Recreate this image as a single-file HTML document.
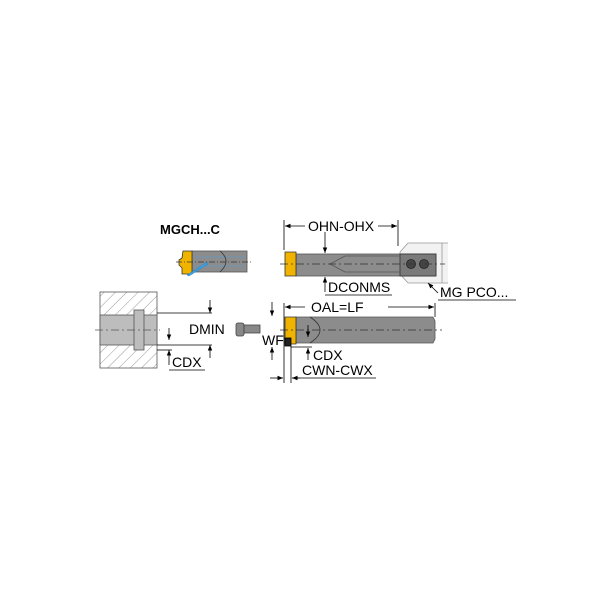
<!DOCTYPE html>
<html><head><style>body{margin:0;background:#fff}svg{display:block}</style></head><body>
<svg width="600" height="600" viewBox="0 0 600 600" xmlns="http://www.w3.org/2000/svg" font-family="Liberation Sans, sans-serif">
<defs>
<pattern id="h" width="8" height="8" patternUnits="userSpaceOnUse" patternTransform="rotate(45)">
<rect width="8" height="8" fill="#fff"/><line x1="0" y1="0" x2="0" y2="8" stroke="#999" stroke-width="1"/></pattern>
<marker id="a" viewBox="0 0 10 10" refX="10" refY="5" markerWidth="7" markerHeight="7" orient="auto-start-reverse"><path d="M0,1 L10,5 L0,9z" fill="#000"/></marker>
</defs>
<g stroke="#000" stroke-width="0.8" fill="none">
<!-- MGCH small tool -->
<text x="160" y="234" font-size="13" font-weight="bold" fill="#000" stroke="none">MGCH...C</text>
<rect x="192" y="251" width="55" height="21" fill="#8c8c8c" stroke="#555"/>
<path d="M220,251 q12,10 0,21" stroke="#333"/>
<path d="M183,251 h9 v23 h-10 v-6 l-3,-3 v-5 l3,-2 z" fill="#f0b400" stroke="#333"/>
<path d="M187,275 l20,-13 l1,2 l-19,12 z" fill="#3ba0e0" stroke="#2a7fc0" stroke-width="0.5"/>
<line x1="176" y1="262" x2="252" y2="262" stroke="#333" stroke-dasharray="6 2 1 2"/>
<line x1="196" y1="257" x2="245" y2="257" stroke="#4aa0e0" stroke-dasharray="3 2"/>
<line x1="196" y1="266" x2="245" y2="266" stroke="#4aa0e0" stroke-dasharray="3 2"/>
<!-- top right tool -->
<path d="M408,243 H448 V283 H408 L400,274 V252 z" stroke="none" fill="#f2f2f2"/>
<path d="M408,243 H448 M408,283 H448 M408,243 L400,252 V274 L408,283 M442,243 V283" stroke="#999"/>
<rect x="296" y="254" width="140" height="22" fill="#8c8c8c" stroke="#555"/>
<rect x="400" y="254" width="36" height="22" fill="#7a7a7a" stroke="#333"/>
<path d="M345,256 H400 M345,272 H400 M345,256 L330,264 L345,272" stroke="#555"/>
<circle cx="411" cy="264" r="4.5" fill="#444" stroke="#222"/><circle cx="424" cy="264" r="4.5" fill="#444" stroke="#222"/>
<path d="M285,252 h11 v24 h-11 z" fill="#f0b400" stroke="#333"/>
<line x1="280" y1="264" x2="445" y2="264" stroke="#333" stroke-dasharray="8 3 2 3"/>
<line x1="284" y1="220" x2="284" y2="250"/><line x1="398" y1="220" x2="398" y2="246"/>
<line x1="285" y1="226" x2="305" y2="226" marker-start="url(#a)"/><line x1="378" y1="226" x2="397" y2="226" marker-end="url(#a)"/>
<text x="308" y="231" font-size="14" fill="#000" stroke="none">OHN-OHX</text>
<line x1="325" y1="232" x2="325" y2="253" marker-end="url(#a)"/>
<line x1="325" y1="292" x2="325" y2="277" marker-end="url(#a)"/>
<text x="328" y="292" font-size="14" fill="#000" stroke="none">DCONMS</text>
<line x1="325" y1="295" x2="392" y2="295"/>
<line x1="438" y1="293" x2="428" y2="283" marker-end="url(#a)"/>
<text x="440" y="297" font-size="14" fill="#000" stroke="none">MG PCO...</text>
<line x1="438" y1="300" x2="516" y2="300"/>
<!-- hatched block -->
<rect x="100" y="292" width="57" height="76" fill="url(#h)" stroke="#555"/>
<rect x="100" y="315" width="57" height="30" fill="#bdbdbd" stroke="#555"/>
<rect x="134" y="310" width="10" height="40" fill="#bdbdbd" stroke="#555"/>
<line x1="95" y1="330" x2="160" y2="330" stroke="#555" stroke-dasharray="8 3 2 3"/>
<line x1="157" y1="313" x2="212" y2="313"/><line x1="157" y1="345" x2="212" y2="345"/>
<line x1="210" y1="300" x2="210" y2="313" marker-end="url(#a)"/><line x1="210" y1="358" x2="210" y2="345" marker-end="url(#a)"/>
<text x="189" y="334" font-size="14" fill="#000" stroke="none">DMIN</text>
<line x1="157" y1="350" x2="172" y2="350"/>
<line x1="169" y1="328" x2="169" y2="340" marker-end="url(#a)"/><line x1="169" y1="365" x2="169" y2="350" marker-end="url(#a)"/>
<text x="172" y="367" font-size="14" fill="#000" stroke="none">CDX</text>
<line x1="169" y1="370" x2="205" y2="370"/>
<!-- small part -->
<rect x="236" y="323" width="8" height="13" rx="2" fill="#888" stroke="#444"/>
<rect x="244" y="325" width="16" height="8" fill="#888" stroke="#444"/>
<!-- bottom right tool -->
<path d="M296,317 H433 l2,4 V339 l-2,4 H296 z" fill="#8c8c8c" stroke="#555"/>
<path d="M310,317 q20,13 0,26" stroke="#333"/>
<path d="M285,317 h11 v27 h-11 z" fill="#f0b400" stroke="#333"/>
<rect x="285" y="338" width="6" height="8" fill="#222"/>
<line x1="280" y1="330" x2="442" y2="330" stroke="#333" stroke-dasharray="8 3 2 3"/>
<line x1="284" y1="303" x2="284" y2="383"/><line x1="291" y1="346" x2="291" y2="383"/>
<line x1="285" y1="307" x2="305" y2="307" marker-start="url(#a)"/><line x1="388" y1="307" x2="434" y2="307" marker-end="url(#a)"/>
<text x="311" y="312" font-size="14" fill="#000" stroke="none">OAL=LF</text>
<line x1="435" y1="303" x2="435" y2="317"/>
<line x1="272" y1="302" x2="272" y2="316" marker-end="url(#a)"/><line x1="272" y1="360" x2="272" y2="347" marker-end="url(#a)"/>
<text x="262" y="345" font-size="14" fill="#000" stroke="none">WF</text>
<line x1="291" y1="347" x2="312" y2="347"/>
<line x1="308" y1="325" x2="308" y2="337" marker-end="url(#a)"/><line x1="308" y1="360" x2="308" y2="348" marker-end="url(#a)"/>
<text x="313" y="360" font-size="14" fill="#000" stroke="none">CDX</text>
<line x1="270" y1="378" x2="283" y2="378" marker-end="url(#a)"/><line x1="300" y1="378" x2="292" y2="378" marker-end="url(#a)"/>
<line x1="292" y1="378" x2="376" y2="378"/>
<text x="302" y="375" font-size="14" fill="#000" stroke="none">CWN-CWX</text>
</g>
</svg>
</body></html>
